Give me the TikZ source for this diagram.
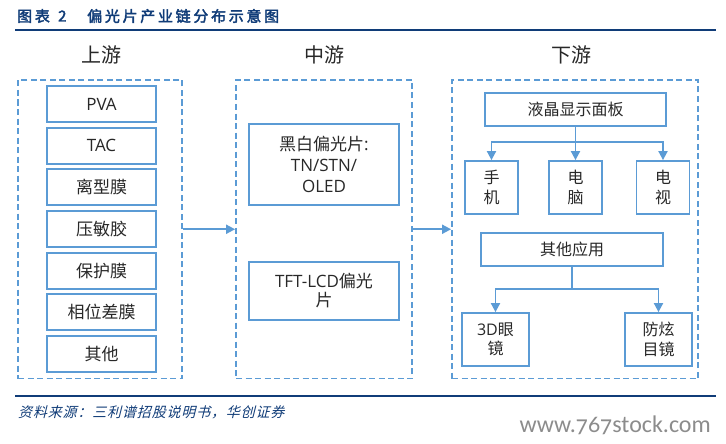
\documentclass[tikz,border=0pt]{standalone}
\usepackage{fontspec}
\setmainfont{Noto Sans CJK SC}
\newfontfamily\lat{Open Sans}
\newfontfamily\titlefont{Noto Sans CJK SC}[FakeBold=2.5,LetterSpace=18]
\newfontfamily\srcfont{Noto Sans CJK SC}[FakeSlant=0.25,LetterSpace=6]
\newfontfamily\wmfont{Carlito}[Numbers=OldStyle]
\usetikzlibrary{arrows.meta}
\definecolor{boxblue}{RGB}{91,155,213}
\definecolor{txt}{RGB}{40,40,40}
\definecolor{titleblue}{RGB}{16,60,120}
\definecolor{wmgray}{RGB}{140,140,140}
\begin{document}
\begin{tikzpicture}[x=1pt,y=-1pt,
  box/.style={draw=boxblue,line width=1.8pt,inner sep=0pt,align=center,text=txt,font=\fontsize{17}{20}\selectfont},
  rbox/.style={box,font=\fontsize{16}{19.5}\selectfont},
  outer/.style={draw=boxblue,line width=1.8pt,dash pattern=on 6pt off 3.5pt,inner sep=0pt},
  arr/.style={draw=boxblue,line width=1.8pt,-{Triangle[length=9pt,width=9pt]}},
  ln/.style={draw=boxblue,line width=1.8pt},
  head/.style={text=txt,font=\fontsize{20}{22}\selectfont}
]
\useasboundingbox (0,0) rectangle (726,444);
\fill[white] (0,0) rectangle (726,444);

% title
\node[anchor=west,inner sep=0pt,text=titleblue,font=\titlefont\fontsize{15}{17}\selectfont] (t1) at (17,16) {图表};
\node[anchor=west,inner sep=0pt,text=titleblue,font=\titlefont\fontsize{15}{17}\selectfont] (t2) at (58,16) {2};
\node[anchor=west,inner sep=0pt,text=titleblue,font=\titlefont\fontsize{15}{17}\selectfont] (t3) at (87,16) {偏光片产业链分布示意图};
\coordinate (tl1) at (15,30);
\coordinate (tl2) at (716,30);
\draw[titleblue,line width=2.2pt] (tl1) -- (tl2);

% headers
\node[head] (h1) at (101,55) {上游};
\node[head] (h2) at (324,55) {中游};
\node[head] (h3) at (571,55) {下游};

% outer dashed boxes
\node[outer,minimum width=164pt,minimum height=298.5pt] (up) at (100,229.25) {};
\node[outer,minimum width=176pt,minimum height=298.5pt] (mid) at (324,229.25) {};
\node[outer,minimum width=246pt,minimum height=298.5pt] (down) at (575,229.25) {};
\draw[arr] (up.east) -- (mid.west);
\draw[arr] (mid.east) -- (down.west);

% upstream items
\node[box,minimum width=109pt,minimum height=36pt] (u1) at (101.5,104) {\lat PVA};
\node[box,minimum width=109pt,minimum height=36pt] (u2) at (101.5,145.7) {\lat TAC};
\node[box,minimum width=109pt,minimum height=36pt] (u3) at (101.5,187.3) {离型膜};
\node[box,minimum width=109pt,minimum height=36pt] (u4) at (101.5,229) {压敏胶};
\node[box,minimum width=109pt,minimum height=36pt] (u5) at (101.5,270.7) {保护膜};
\node[box,minimum width=109pt,minimum height=36pt] (u6) at (101.5,312.3) {相位差膜};
\node[box,minimum width=109pt,minimum height=36pt] (u7) at (101.5,354) {其他};

% midstream items
\node[box,font=\fontsize{17}{21}\selectfont,minimum width=150pt,minimum height=81pt] (m1) at (324,164.5) {黑白偏光片{\lat :}\\{\lat TN/STN/}\\{\lat OLED}};
\node[box,font=\fontsize{17}{19}\selectfont,minimum width=150pt,minimum height=58pt] (m2) at (324,291) {{\lat TFT-LCD}偏光\\片};

% downstream items
\node[rbox,minimum width=181pt,minimum height=33pt] (lcd) at (575.5,109.5) {液晶显示面板};
\node[rbox,minimum width=53pt,minimum height=53pt] (phone) at (491.5,187.5) {手\\机};
\node[rbox,minimum width=53pt,minimum height=53pt] (pc) at (575.5,187.5) {电\\脑};
\node[rbox,minimum width=53pt,minimum height=53pt] (tv) at (663,187.5) {电\\视};
\node[rbox,minimum width=182pt,minimum height=33pt] (other) at (572,249.5) {其他应用};
\node[rbox,minimum width=67pt,minimum height=53pt] (glass) at (495.5,339.5) {{\lat 3D}眼\\镜};
\node[rbox,minimum width=67pt,minimum height=53pt] (anti) at (658.5,339.5) {防炫\\目镜};

\coordinate (j1) at (575.5,142);
\draw[ln] (lcd.south) -- (j1);
\draw[arr] (j1) -| (phone.north);
\draw[arr] (j1) -- (pc.north);
\draw[arr] (j1) -| (tv.north);

\coordinate (j2) at (572,289);
\draw[ln] (other.south) -- (j2);
\draw[arr] (j2) -| (glass.north);
\draw[arr] (j2) -| (anti.north);

% footer
\coordinate (bl1) at (15,396);
\coordinate (bl2) at (716,396);
\draw[titleblue,line width=2.2pt] (bl1) -- (bl2);
\node[anchor=west,inner sep=0pt,text=titleblue,font=\srcfont\fontsize{14}{16}\selectfont] (src) at (18,412) {资料来源：三利谱招股说明书，华创证券};
\node[anchor=east,inner sep=0pt,text=wmgray,font=\wmfont\fontsize{24}{26}\selectfont] (wm) at (711,425) {www.767stock.com};
\end{tikzpicture}
\end{document}
